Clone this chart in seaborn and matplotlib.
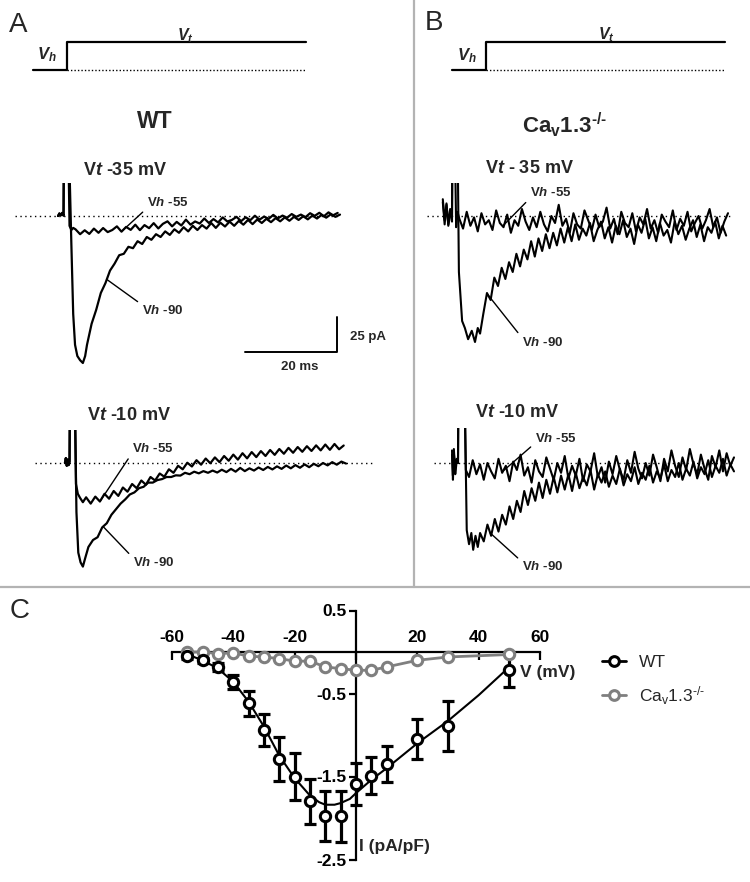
import numpy as np
import matplotlib
matplotlib.use("Agg")
import matplotlib.pyplot as plt
import seaborn as sns
from matplotlib.lines import Line2D

W, H = 750, 882
PX_MS = 4.6   # pixels per ms in the current traces
PX_PA = 1.4   # pixels per pA in the current traces

# ---- voltage protocol (schematic) ----
PROT_T = [-7.4, 0, 0, 52]
PROT_V = [0, 0, 1, 1]

# ---- WT, Vt -35 mV ----
A35_H55_T = [-1.3, -1.0, -0.7, -0.4, -0.1, 0.0, 0.9, 1.2, 1.6, 2.0]
A35_H55_I = [0.0, 1.8, 0.5, 2.2, 0.3, 60, 60, -7, -10, -8.5]
A35_H55_TAIL = [-9.5, -13.0, -10.2, -12.8, -9.0, -12.0, -8.6, -11.5, -10.0, -7.4,
                -11.2, -7.8, -9.9, -6.2, -10.1, -6.5, -8.7, -5.1, -8.9, -5.6,
                -3.8, -7.4, -4.2, -6.8, -2.6, -6.2, -3.9, -5.4, -1.8, -5.0,
                -2.2, -4.6, -1.0, -3.9, -2.8, -0.6, -3.7, -0.9, -3.0, 0.2,
                -2.6, -0.4, -2.0, 0.8, -1.7, 0.3, -1.2, 1.4, -0.6, 1.0,
                -0.8, 2.0, 0.1, 2.3, -0.2, 2.6, 0.5, 2.2]
A35_H90_T = [-1.3, -1.0, -0.7, -0.4, -0.1, 0.0, 1.0, 1.6, 2.0, 2.4, 2.9, 3.5, 4.1, 4.6]
A35_H90_I = [0.0, 1.8, 0.5, 2.2, 0.3, 60, 60, -20, -70, -92, -100, -103, -105, -100]
A35_H90_TAIL = [-92, -77, -67, -55, -48, -39, -34, -28, -27, -22,
                -23, -18, -20, -15, -17, -13, -15, -11, -13.5, -9.5,
                -12, -8, -11, -7, -10, -6.5, -9, -5, -8.5, -4.8,
                -7.5, -4, -7, -3.5, -6.2, -2.8, -5.8, -2.5, -5, -2,
                -4.4, -1.5, -3.8, -1, -3.4, -0.6, -2.8, -0.2, -2.4, 0.3,
                -1.8, 0.8, -1.2, 1.2, -0.6, 1.0]

# ---- WT, Vt -10 mV ----
A10_H55_T = [-1.1, -0.9, -0.7, -0.5, -0.3, -0.1, 0.0, 1.0, 1.3, 1.7, 2.2, 2.8]
A10_H55_I = [0, 3.5, -2, 2.5, -1.5, 1, 60, 60, -15, -22, -25, -28]
A10_H55_TAIL = [-24.5, -29.0, -24.0, -27.5, -22.0, -25.5, -20.0, -23.5, -17.5, -20.5,
                -15.0, -18.0, -12.5, -15.5, -10.0, -12.5, -7.5, -9.8, -4.5, -7.0,
                -2.0, -4.5, 0.2, -2.5, 2.0, -1.2, 3.2, -0.2, 4.0, 0.6,
                5.0, 1.6, 6.0, 2.4, 7.0, 3.3, 7.8, 4.2, 8.5, 5.0,
                9.3, 5.8, 10.0, 6.6, 10.8, 7.3, 11.4, 8.0, 12.0, 8.6,
                12.6, 9.0, 13.2, 9.4, 13.6, 9.8, 12.5]
A10_H90_T = [-1.1, -0.9, -0.7, -0.5, -0.3, -0.1, 0.0, 1.0, 1.4, 1.8, 2.3, 2.8, 3.3]
A10_H90_I = [0, 3.5, -2, 2.5, -1.5, 1, 60, 60, -35, -64, -71, -74, -68]
A10_H90_TAIL = [-60, -55, -53, -46, -43, -37, -33, -29, -26, -22.5,
                -21, -18, -17, -14, -14, -12.2, -11.5, -10, -10, -8.8,
                -9, -7, -8, -6.2, -7.4, -5.8, -7, -5.4, -6.8, -4.8,
                -6.5, -4.2, -6.2, -3.5, -5.8, -3.8, -5.4, -3.2, -5, -2.8,
                -4.6, -2.4, -4.2, -1.8, -3.8, -1.5, -3.4, -1.0, -3, -0.6,
                -2.3, 0, -1.7, 0.6, -1.2, 1.0, -0.4]

# ---- Cav1.3-/-, Vt -35 mV ----
B35_H55_T = [-2.0, -1.6, -1.2, -0.8, -0.4, 0.0, 0.1, 0.6, 0.9, 1.2]
B35_H55_I = [12, -3, 8, -6, 5, -4, 60, 60, -8, 3]
B35_H55_TAIL = [-2, -9, 3, -7, -1, -11, 2, -6, -3, -10, 4, -5, -8, 1, -12, -3, -7, 5, -4, -10,
                -1, -8, 3, -6, -11, 0, -5, 8, -7, -2, -12, 2, -6, -9, 4, -3, -10, 1, -8, -4,
                6, -9, -2, -13, 3, -5, -8, 2, -11, -1, -6, 5, -9, -3, -12, 1, -4, -8, 4, -10,
                -2, -7, 3, -11, -5, 0, -9, -3, 5, -8, -1, -12, -4, 2]
B35_H90_T = [-2.0, -1.6, -1.2, -0.8, -0.4, 0.0, 0.1, 1.2, 1.5, 2.2, 2.8, 3.5, 4.3, 5.0, 5.6, 6.1, 6.8]
B35_H90_I = [10, -6, 9, -7, 2, 0, 60, 60, -40, -75, -80, -88, -82, -90, -80, -84, -70]
B35_H90_TAIL = [-55, -60, -44, -50, -37, -45, -33, -40, -27, -36,
                -24, -31, -18, -29, -16, -25, -13, -23, -12, -21,
                -9, -19, -8, -18, -6, -17, -9, -14, -5, -18,
                -10, -4, -16, -8, -19, -7, -13, -3, -15, -9,
                -20, -6, -12, -2, -16, -8, -18, -5, -14, -10,
                -19, -4, -13, -7, -17, -9, -3, -15, -6, -18,
                -8, -12, -4, -16, -7, -14]

# ---- Cav1.3-/-, Vt -10 mV ----
B10_H55_T = [-1.3, -1.1, -0.9, -0.6, -0.3, 0.0, 0.1, 1.4, 1.7]
B10_H55_I = [9, -12, 7, -5, 3, 0, 60, 60, -5]
B10_H55_TAIL = [-10, 2, -8, -1, -12, 0, -6, -11, 3, -7, -2, -13, 1, -5, 6, -9, -3, -14, 2, -6,
                -10, 4, -4, -12, 0, -7, 5, -11, -2, -9, 3, -13, -1, -6, 7, -10, -3, -14, 1, -8,
                5, -5, -12, 2, -7, 8, -4, -11, 0, -9, 6, -3, -13, 3, -6, 9, -2, -10, 4, -5,
                10, -1, -8, 6, -4, -12, 5, -3, 9, -6, 7, -2, 4]
B10_H90_T = [-1.3, -1.1, -0.9, -0.6, -0.3, 0.0, 0.1, 1.4, 1.9, 2.4, 2.9, 3.3, 3.8, 4.3, 4.8]
B10_H90_I = [6, -9, 10, -8, 1, 0, 60, 60, -48, -58, -50, -62, -52, -60, -50]
B10_H90_TAIL = [-56, -44, -52, -40, -49, -37, -44, -31, -40, -27,
                -35, -20, -30, -18, -27, -14, -25, -12, -22, -10,
                -21, -9, -19, -8, -20, -7, -18, -10, -16, -5,
                -19, -8, -14, -6, -17, -9, -15, -4, -16, -8,
                -13, -3, -15, -7, -12, -2, -14, -6, -11, -1,
                -13, -5, -10, 0, -12, -4, -9, 1, -11, -3,
                -8, 2, -10, -2, -7, 3, -9, -1, -6]

# scale bar
SCALE_MS = 20
SCALE_PA = 25

# ---- panel C: I-V relation ----
WT_V = [-55, -50, -45, -40, -35, -30, -25, -20, -15, -10, -5, 0, 5, 10, 20, 30, 50]
WT_I = [-0.05, -0.10, -0.18, -0.36, -0.62, -0.94, -1.29, -1.50, -1.80, -1.98, -1.98,
        -1.59, -1.49, -1.35, -1.05, -0.89, -0.22]
WT_SEM = [0.03, 0.03, 0.05, 0.08, 0.15, 0.19, 0.27, 0.28, 0.27, 0.30, 0.31,
          0.25, 0.22, 0.22, 0.24, 0.30, 0.20]
CAV_V = [-55, -50, -45, -40, -35, -30, -25, -20, -15, -10, -5, 0, 5, 10, 20, 30, 50]
CAV_I = [0.0, 0.0, -0.02, -0.01, -0.05, -0.06, -0.08, -0.11, -0.11, -0.18, -0.20,
         -0.22, -0.22, -0.18, -0.10, -0.06, -0.03]
FIT_V = [-56, -55, -50, -45, -40, -35, -30, -25, -20, -15, -12, -10, -7, -5, -2, 0,
         5, 10, 15, 20, 30, 40, 50]
FIT_I = [-0.02, -0.03, -0.10, -0.20, -0.36, -0.60, -0.90, -1.25, -1.52, -1.73, -1.81,
         -1.84, -1.84, -1.82, -1.77, -1.70, -1.54, -1.40, -1.25, -1.10, -0.83, -0.52, -0.18]

GRAY = "#7f7f7f"
KO_LABEL = "Ca$_\\mathbf{v}$1.3$^\\mathbf{\u2010/\u2010}$"
KO_LEGEND = "Ca$_\\mathsf{v}$1.3$^\\mathsf{\u2010/\u2010}$"

sns.set_theme(style="white")
plt.rcParams["font.family"] = ["Liberation Sans", "DejaVu Sans"]
plt.rcParams["mathtext.fontset"] = "custom"
plt.rcParams["mathtext.rm"] = "Liberation Sans"
plt.rcParams["mathtext.it"] = "Liberation Sans:italic:bold"
plt.rcParams["mathtext.bf"] = "Liberation Sans:bold"
plt.rcParams["mathtext.sf"] = "Liberation Sans"
plt.rcParams["axes.unicode_minus"] = False

fig = plt.figure(figsize=(W / 100, H / 100), dpi=100)


def fx(x):
    return x / W


def fy(y):
    return 1 - y / H


def px_axes(x0, y0, x1, y1):
    ax = fig.add_axes([x0 / W, 1 - y1 / H, (x1 - x0) / W, (y1 - y0) / H])
    ax.set_axis_off()
    return ax


def make_trace(head_t, head_i, t0, dt, tail):
    t = np.concatenate([head_t, t0 + dt * np.arange(len(tail))])
    i = np.concatenate([head_i, tail])
    return t, i


def trace_block(box, step_x, base_y, traces, dots, lw):
    x0, y0, x1, y1 = box
    ax = px_axes(x0, y0, x1, y1)
    for t, i in traces:
        sns.lineplot(x=t, y=i, ax=ax, color="black", lw=lw, sort=False, estimator=None)
    ax.set_xlim((x0 - step_x) / PX_MS, (x1 - step_x) / PX_MS)
    ax.set_ylim((base_y - y1) / PX_PA, (base_y - y0) / PX_PA)
    ax.axhline(0, xmin=(dots[0] - x0) / (x1 - x0), xmax=(dots[1] - x0) / (x1 - x0),
               color="black", lw=1, ls=(0, (1, 2.5)), zorder=0)
    ax.set_axis_off()
    return ax


def vh_label(ax, trace, t_at, text, x, y, relpos):
    t, i = trace
    ax.annotate(text, xy=(t_at, np.interp(t_at, t, i)), xycoords="data",
                xytext=(x, H - y), textcoords="figure pixels", ha="left", va="center",
                fontsize=9.5, fontweight="bold", annotation_clip=False,
                arrowprops=dict(arrowstyle="-", color="black", lw=1,
                                shrinkA=1, shrinkB=0, relpos=relpos))


def protocol(x0, x1, step_x, vh_xy, vt_xy):
    ax = px_axes(x0, 30, x1, 80)
    sns.lineplot(x=PROT_T, y=PROT_V, ax=ax, color="black", lw=1.6, sort=False, estimator=None)
    ax.plot([0, PROT_T[-1]], [0, 0], color="black", lw=1, ls=(0, (1, 1.5)))
    ax.set_xlim((x0 - step_x) / PX_MS, (x1 - step_x) / PX_MS)
    ax.set_ylim((70 - 80) / 28, (70 - 30) / 28)
    ax.set_axis_off()
    fig.text(fx(vh_xy[0]), fy(vh_xy[1]), "$V_h$", fontsize=12, va="baseline")
    fig.text(fx(vt_xy[0]), fy(vt_xy[1]), "$V_t$", fontsize=11.5, va="baseline")


# ---------- panel A (WT) ----------
fig.text(fx(9), fy(32), "A", fontsize=20, va="baseline")
protocol(25, 320, 67, (37, 59), (177, 40))
fig.text(fx(155), fy(128), "WT", fontsize=16.5, fontweight="bold", ha="center", va="baseline")

fig.text(fx(83), fy(175), "V$t$ -35 mV", fontsize=13, fontweight="bold", va="baseline")
a35_55 = make_trace(A35_H55_T, A35_H55_I, 2.5, 1.0, A35_H55_TAIL)
a35_90 = make_trace(A35_H90_T, A35_H90_I, 5.0, 1.0, A35_H90_TAIL)
ax_a35 = trace_block((5, 183, 372, 375), 64, 216, [a35_55, a35_90], (15, 340), 1.6)
vh_label(ax_a35, a35_55, 12.8, "V$h$ -55", 147, 203, (0, 0.1))
vh_label(ax_a35, a35_90, 9.3, "V$h$ -90", 142, 310, (0, 0.9))

# scale bar, bottom-right corner at 59.3 ms / -97 pA of the upper WT block
BAR_T_END, BAR_I_BASE = 59.3, -97
ax_a35.plot([BAR_T_END - SCALE_MS, BAR_T_END, BAR_T_END],
            [BAR_I_BASE, BAR_I_BASE, BAR_I_BASE + SCALE_PA], color="black", lw=1.4)
fig.text(fx(350), fy(337), f"{SCALE_PA} pA", fontsize=9.5, fontweight="bold", va="center")
fig.text(fx(300), fy(367), f"{SCALE_MS} ms", fontsize=9.5, fontweight="bold",
         ha="center", va="center")

fig.text(fx(87), fy(420), "V$t$ -10 mV", fontsize=13, fontweight="bold", va="baseline")
a10_55 = make_trace(A10_H55_T, A10_H55_I, 3.5, 1.0, A10_H55_TAIL)
a10_90 = make_trace(A10_H90_T, A10_H90_I, 4.0, 1.0, A10_H90_TAIL)
ax_a10 = trace_block((5, 430, 405, 580), 70, 463, [a10_55, a10_90], (35, 375), 1.6)
vh_label(ax_a10, a10_55, 6.5, "V$h$ -55", 132, 448, (0, 0.1))
vh_label(ax_a10, a10_90, 7.2, "V$h$ -90", 133, 563, (0, 0.9))

# ---------- panel B (Cav1.3-/-) ----------
fig.text(fx(425), fy(30), "B", fontsize=20, va="baseline")
protocol(440, 745, 486, (457, 60), (598, 39))
fig.text(fx(522), fy(133), KO_LABEL, fontsize=16, fontweight="bold", va="baseline")

fig.text(fx(485), fy(173), "V$t$ - 35 mV", fontsize=13, fontweight="bold", va="baseline")
b35_55 = make_trace(B35_H55_T, B35_H55_I, 1.6, 0.8, B35_H55_TAIL)
b35_90 = make_trace(B35_H90_T, B35_H90_I, 7.6, 0.8, B35_H90_TAIL)
ax_b35 = trace_block((420, 183, 745, 365), 452, 216, [b35_55, b35_90], (427, 730), 1.5)
vh_label(ax_b35, b35_55, 11.0, "V$h$ -55", 530, 193, (0, 0.1))
vh_label(ax_b35, b35_90, 7.8, "V$h$ -90", 522, 343, (0, 0.9))

fig.text(fx(475), fy(417), "V$t$ -10 mV", fontsize=13, fontweight="bold", va="baseline")
b10_55 = make_trace(B10_H55_T, B10_H55_I, 2.4, 0.8, B10_H55_TAIL)
b10_90 = make_trace(B10_H90_T, B10_H90_I, 5.6, 0.8, B10_H90_TAIL)
ax_b10 = trace_block((420, 428, 745, 580), 458, 463, [b10_55, b10_90], (434, 735), 1.5)
vh_label(ax_b10, b10_55, 9.8, "V$h$ -55", 535, 438, (0, 0.1))
vh_label(ax_b10, b10_90, 7.0, "V$h$ -90", 522, 567, (0, 0.9))

# separators
fig.add_artist(Line2D([fx(414), fx(414)], [fy(0), fy(587)], transform=fig.transFigure,
                      color="#b3b3b3", lw=1.6))
fig.add_artist(Line2D([0, 1], [fy(587), fy(587)], transform=fig.transFigure,
                      color="#b3b3b3", lw=1.6))

# ---------- panel C ----------
fig.text(fx(10), fy(618), "C", fontsize=20, va="baseline")
axc = fig.add_axes([172 / W, 1 - 859.5 / H, 368 / W, 249 / H])
axc.patch.set_visible(False)
axc.errorbar(WT_V, WT_I, yerr=WT_SEM, fmt="none", ecolor="black", elinewidth=2.3,
             capsize=4.5, capthick=2.3, zorder=2)
sns.lineplot(x=FIT_V, y=FIT_I, ax=axc, color="black", lw=1.5, zorder=3)
sns.lineplot(x=CAV_V, y=CAV_I, ax=axc, color=GRAY, lw=2, marker="o", ms=7.5,
             mfc="white", mec=GRAY, mew=2.2, zorder=4)
sns.scatterplot(x=WT_V, y=WT_I, ax=axc, marker="o", s=55, color="white",
                edgecolor="black", linewidth=2.2, zorder=5)
axc.set_xlim(-60, 60)
axc.set_ylim(-2.5, 0.5)
axc.set_xlabel("")
axc.set_ylabel("")
for s in ["right", "bottom"]:
    axc.spines[s].set_visible(False)
for s in ["left", "top"]:
    axc.spines[s].set_position(("data", 0))
    axc.spines[s].set_linewidth(1.6)
    axc.spines[s].set_color("black")
axc.xaxis.set_ticks_position("top")
axc.set_xticks([-60, -40, -20, 0, 20, 40, 60])
axc.set_xticklabels(["-60", "-40", "-20", "", "20", "40", "60"])
axc.set_yticks([0.5, -0.5, -1.5, -2.5])
axc.set_yticklabels(["0.5", "-0.5", "-1.5", "-2.5"])
axc.tick_params(axis="x", direction="in", length=6, width=1.6, pad=5, labelsize=12.5,
                colors="black")
axc.tick_params(axis="y", direction="out", length=5, width=1.6, pad=2, labelsize=12.5,
                colors="black", left=True)
for lbl in axc.get_xticklabels() + axc.get_yticklabels():
    lbl.set_fontweight("bold")
fig.text(fx(520), fy(677), "V (mV)", fontsize=12.5, fontweight="bold", va="baseline")
fig.text(fx(359), fy(851), "I (pA/pF)", fontsize=12.5, fontweight="bold", va="baseline")

handles = [Line2D([], [], color="black", lw=2, marker="o", ms=7, mfc="white", mec="black", mew=2.2),
           Line2D([], [], color=GRAY, lw=2, marker="o", ms=7, mfc="white", mec=GRAY, mew=2.2)]
fig.legend(handles, ["WT", KO_LEGEND], loc="upper left",
           bbox_to_anchor=(fx(602), fy(655)), frameon=False, fontsize=12.5,
           handlelength=1.4, handletextpad=0.75, labelspacing=0.8, borderpad=0,
           borderaxespad=0)

fig.savefig("out.png", dpi=100)
